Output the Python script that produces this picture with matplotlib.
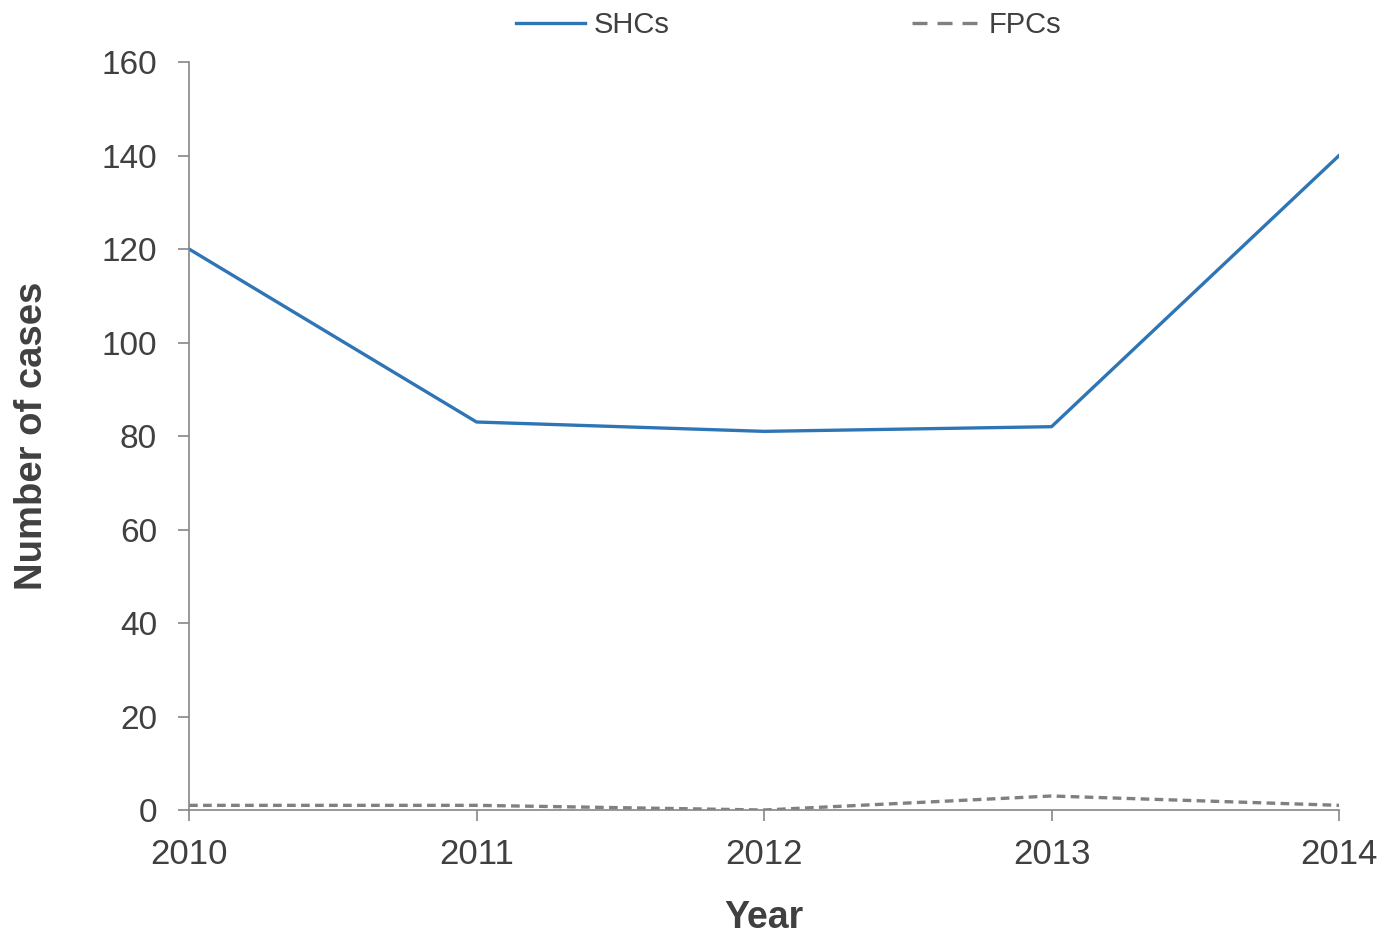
import numpy as np
import matplotlib.pyplot as plt
from matplotlib.lines import Line2D

plt.rcParams['font.family'] = ['Liberation Sans', 'DejaVu Sans']

years = [2010, 2011, 2012, 2013, 2014]
shcs = [120, 83, 81, 82, 140]
fpcs = [1, 1, 0, 3, 1]

txt = '#404040'
axc = '#868686'
blue = '#2e75b6'
grey = '#808080'

fig = plt.figure(figsize=(13.83, 9.36), dpi=100)
ax = fig.add_axes([0.1367, 0.1346, 0.8315, 0.7991])

ax.plot(years, shcs, color=blue, lw=2.4)
ax.plot(years, fpcs, color=grey, lw=2.4, ls=(0, (2.6, 1.6)))

ax.set_xlim(2010, 2014)
ax.set_ylim(0, 160)
ax.set_xticks(years)
ax.set_yticks(np.arange(0, 161, 20))

for s in ['top', 'right']:
    ax.spines[s].set_visible(False)
for s in ['left', 'bottom']:
    ax.spines[s].set_color(axc)
    ax.spines[s].set_linewidth(1.2)
ax.tick_params(axis='both', colors=axc, labelcolor=txt, width=1.2, length=8)
ax.tick_params(axis='y', labelsize=24, pad=15)
ax.tick_params(axis='x', labelsize=25, pad=12)

ax.set_xlabel('Year', fontsize=27, fontweight='bold', color=txt, labelpad=21)
ax.set_ylabel('Number of cases', fontsize=27.5, fontweight='bold', color=txt, labelpad=37)

# legend handles (Excel draws longer dashes in the key)
handles = [Line2D([], [], color=blue, lw=2.4),
           Line2D([], [], color=grey, lw=2.4, ls=(0, (4.5, 3)))]
fig.legend(handles, ['SHCs', 'FPCs'], loc='center', bbox_to_anchor=(0.5705, 0.973),
           ncol=2, frameon=False, fontsize=21, labelcolor=txt,
           columnspacing=8.3, handlelength=2.35, handletextpad=0.3)

fig.savefig('out.png', dpi=100, facecolor='white')
